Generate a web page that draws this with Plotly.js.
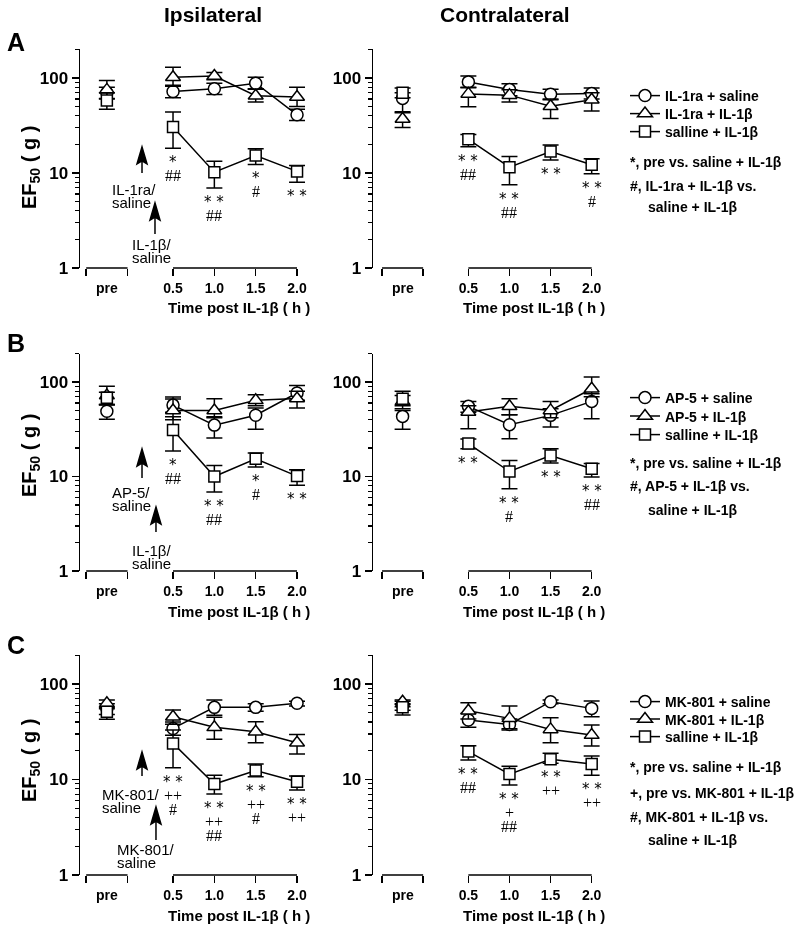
<!DOCTYPE html>
<html><head><meta charset="utf-8">
<script src="https://cdn.plot.ly/plotly-3.0.1.min.js"></script>
<style>html,body{margin:0;padding:0;background:#fff}
#chart svg.main-svg{will-change:transform}
</style>
</head><body><div id="chart" style="width:800px;height:931px"></div>
<script>
const FONT = 'Liberation Sans, Arial, Helvetica, sans-serif';
const SERIF = 'Liberation Serif, Times New Roman, serif';
const STARFONT = 'DejaVu Sans, sans-serif';
const W = 800, H = 931;
const px = x => x / W, py = y => 1 - y / H;

// ---------- data ----------
const PRE_X = -0.3;
const times = [0.5, 1.0, 1.5, 2.0];
const timeLabels = ['0.5', '1.0', '1.5', '2.0'];
const preLabel = 'pre';
const yTickVals = [1, 10, 100];
const yTickText = ['1', '10', '100'];
const yMinorVals = [2, 3, 4, 5, 6, 7, 8, 9, 20, 30, 40, 50, 60, 70, 80, 90, 200];
const Y_MAX = 200;

const namesA = ['IL-1ra + saline', 'IL-1ra + IL-1β', 'salline + IL-1β'];
const namesB = ['AP-5 + saline', 'AP-5 + IL-1β', 'salline + IL-1β'];
const namesC = ['MK-801 + saline', 'MK-801 + IL-1β', 'salline + IL-1β'];

// each array: [pre, 0.5 h, 1.0 h, 1.5 h, 2.0 h]; Hi / Lo = ends of the error bars
// A ipsilateral
const aIpsiCir = [70, 72, 77, 88, 41];
const aIpsiCirHi = [80, 84, 88, 102, 47];
const aIpsiCirLo = [61, 62, 67, 77, 35.6];
const aIpsiTri = [75, 102, 105, 65, 63];
const aIpsiTriHi = [94, 130, 114, 76, 80];
const aIpsiTriLo = [60, 82, 96, 56, 50];
const aIpsiSq = [58, 30.5, 10.2, 15.3, 10.4];
const aIpsiSqHi = [70, 43.9, 13.3, 18, 12];
const aIpsiSqLo = [47, 18.2, 6.95, 12.3, 8];
// A contralateral
const aConCir = [61, 91, 75.5, 67.4, 68.5];
const aConCirHi = [70, 105, 87, 76, 78.6];
const aConCirLo = [43, 79, 65, 59, 60];
const aConTri = [37, 68, 66, 50.5, 59];
const aConTriHi = [44, 80, 75, 60, 70];
const aConTriLo = [30.2, 49.7, 56, 37.5, 45];
const aConSq = [70, 22.6, 11.5, 16.8, 12.2];
const aConSqHi = [78.6, 25.5, 14.9, 19.7, 14.1];
const aConSqLo = [62, 18.9, 7.5, 13.7, 9.8];
// B ipsilateral
const bIpsiCir = [49, 57, 35, 44.5, 76.5];
const bIpsiCirHi = [57, 66, 42, 53, 92];
const bIpsiCirLo = [40.3, 48, 25.5, 31.6, 64];
const bIpsiTri = [72, 50, 50, 64, 67];
const bIpsiTriHi = [90, 69.4, 66.6, 73.4, 80];
const bIpsiTriLo = [58, 40, 43, 56, 53];
const bIpsiSq = [68, 31, 10, 15.4, 10.1];
const bIpsiSqHi = [78, 43, 13.1, 17.7, 11.8];
const bIpsiSqLo = [58, 18.6, 6.85, 12.6, 8.07];
// B contralateral
const bConCir = [43.3, 55.3, 35.4, 44.4, 62.4];
const bConCirHi = [50, 62.4, 45, 52, 75];
const bConCirLo = [31.6, 48, 25.1, 33.4, 40.9];
const bConTri = [62.4, 48.2, 55.3, 50.1, 85];
const bConTriHi = [72, 56, 66.6, 62.4, 113];
const bConTriLo = [52, 32.1, 45, 42, 70];
const bConSq = [66.6, 22.3, 11.3, 16.7, 12.1];
const bConSqHi = [79.7, 25, 14.8, 19.7, 13.7];
const bConSqLo = [56, 19.7, 7.4, 13.9, 9.9];
// C ipsilateral
const cIpsiCir = [55.6, 34.3, 57, 57, 62.8];
const cIpsiCirHi = [62, 40, 68, 62, 66];
const cIpsiCirLo = [48, 29, 47, 52, 59];
const cIpsiTri = [62.8, 45.5, 35.2, 31.7, 24.3];
const cIpsiTriHi = [68, 53.4, 45, 40.3, 29.7];
const cIpsiTriLo = [55, 38, 26.4, 24.3, 18.5];
const cIpsiSq = [51.3, 23.9, 8.97, 12.4, 9.5];
const cIpsiSqHi = [57, 33, 11.1, 14.5, 10.9];
const cIpsiSqLo = [42.7, 13.3, 7.05, 10.7, 7.77];
// C contralateral
const cConCir = [60, 42, 37.8, 65.3, 55.6];
const cConCirHi = [66, 49, 43, 68, 66.4];
const cConCirLo = [53, 35.2, 33, 62, 45.5];
const cConTri = [65.3, 52.6, 43.7, 33.5, 29.2];
const cConTriHi = [68, 63.8, 58.8, 44.4, 37.2];
const cConTriLo = [58, 43, 34, 24.3, 22.4];
const cConSq = [57, 19.6, 11.4, 16.3, 14.5];
const cConSqHi = [62, 22.6, 13.8, 18.8, 17.6];
const cConSqLo = [47.3, 16, 8.75, 14.8, 11.1];

// significance labels under the saline + IL-1β points (0.5, 1.0, 1.5, 2.0 h)
const sigAIpsi = [['*', '##'], ['**', '##'], ['*', '#'], ['**']];
const sigACon = [['**', '##'], ['**', '##'], ['**'], ['**', '#']];
const sigBIpsi = [['*', '##'], ['**', '##'], ['*', '#'], ['**']];
const sigBCon = [['**'], ['**', '#'], ['**'], ['**', '##']];
const sigCIpsi = [['**', '++', '#'], ['**', '++', '##'], ['**', '++', '#'], ['**', '++']];
const sigCCon = [['**', '##'], ['**', '+', '##'], ['**', '++'], ['**', '++']];

const colTitles = ['Ipsilateral', 'Contralateral'];
const rowLetters = ['A', 'B', 'C'];
const xTitle = 'Time post IL-1β ( h )';
const yTitle = 'EF<sub>50</sub> ( g )';
const arrowTexts = [
  [['IL-1ra/', 'saline'], ['IL-1β/', 'saline']],
  [['AP-5/', 'saline'], ['IL-1β/', 'saline']],
  [['MK-801/', 'saline'], ['MK-801/', 'saline']]
];
const notes = [
  ['*, pre vs. saline + IL-1β', '#, IL-1ra + IL-1β vs.', 'saline + IL-1β'],
  ['*, pre vs. saline + IL-1β', '#, AP-5 + IL-1β vs.', 'saline + IL-1β'],
  ['*, pre vs. saline + IL-1β', '+, pre vs. MK-801 + IL-1β', '#, MK-801 + IL-1β vs.', 'saline + IL-1β']
];

// ---------- layout geometry ----------
const LOGMAX = Math.log10(Y_MAX);
const rowDomains = [[0.71214, 0.94694], [0.38668, 0.62019], [0.06015, 0.29613]];
const colDomains = [[0.1, 0.38163], [0.46625, 0.74988]];
const colRanges = [[-0.625, 2.1], [-0.66, 2.1]];
const preSeg = [-0.55, -0.05];
// arrow decorations: x (data), tip (log units), length px, label left x, label center (log units)
const arrowGeo = [
  [{x: 0.125, tip: 1.274, len: 26, lx: -0.262, ly: 0.753}, {x: 0.282, tip: 0.684, len: 31, lx: -0.02, ly: 0.174}],
  [{x: 0.125, tip: 1.291, len: 29, lx: -0.262, ly: 0.767}, {x: 0.294, tip: 0.677, len: 25, lx: -0.02, ly: 0.153}],
  [{x: 0.125, tip: 1.288, len: 24, lx: -0.383, ly: 0.780}, {x: 0.294, tip: 0.712, len: 33, lx: -0.2016, ly: 0.194}]
];
const yTitleY = [168, 456, 761];
const letterY = [42, 343, 645];
const legendRowY = [[96, 114, 132], [398, 416.5, 435], [702, 719.5, 737]];
const noteY = [[162, 186, 207], [463, 486, 510], [767, 793, 817, 840]];

const panels = [
  {row: 0, col: 0, m: [aIpsiCir, aIpsiTri, aIpsiSq], hi: [aIpsiCirHi, aIpsiTriHi, aIpsiSqHi], lo: [aIpsiCirLo, aIpsiTriLo, aIpsiSqLo], sig: sigAIpsi, names: namesA},
  {row: 0, col: 1, m: [aConCir, aConTri, aConSq], hi: [aConCirHi, aConTriHi, aConSqHi], lo: [aConCirLo, aConTriLo, aConSqLo], sig: sigACon, names: namesA},
  {row: 1, col: 0, m: [bIpsiCir, bIpsiTri, bIpsiSq], hi: [bIpsiCirHi, bIpsiTriHi, bIpsiSqHi], lo: [bIpsiCirLo, bIpsiTriLo, bIpsiSqLo], sig: sigBIpsi, names: namesB},
  {row: 1, col: 1, m: [bConCir, bConTri, bConSq], hi: [bConCirHi, bConTriHi, bConSqHi], lo: [bConCirLo, bConTriLo, bConSqLo], sig: sigBCon, names: namesB},
  {row: 2, col: 0, m: [cIpsiCir, cIpsiTri, cIpsiSq], hi: [cIpsiCirHi, cIpsiTriHi, cIpsiSqHi], lo: [cIpsiCirLo, cIpsiTriLo, cIpsiSqLo], sig: sigCIpsi, names: namesC},
  {row: 2, col: 1, m: [cConCir, cConTri, cConSq], hi: [cConCirHi, cConTriHi, cConSqHi], lo: [cConCirLo, cConTriLo, cConSqLo], sig: sigCCon, names: namesC}
];
const symbols = ['circle', 'triangle-up', 'square'];
const sizes = [12, 13, 11];

const traces = [], annotations = [], shapes = [];
const layout = {
  width: W, height: H, autosize: false,
  margin: {l: 0, r: 0, t: 0, b: 0},
  paper_bgcolor: 'white', plot_bgcolor: 'rgba(0,0,0,0)',
  font: {family: FONT, color: 'black'},
  showlegend: true, annotations, shapes
};

const gap = a => [a[0], null].concat(a.slice(1));
const legendKey = idx => idx === 1 ? 'legend' : 'legend' + idx;

panels.forEach((p, i) => {
  const n = i + 1, sx = n === 1 ? '' : String(n);
  const xa = 'x' + sx, ya = 'y' + sx;
  layout['xaxis' + sx] = {
    domain: colDomains[p.col], range: colRanges[p.col], anchor: ya,
    showline: false, showgrid: false, zeroline: false, fixedrange: true,
    ticks: 'outside', ticklen: 7, tickwidth: 1.5, tickcolor: 'black',
    tickmode: 'array', tickvals: times, ticktext: timeLabels,
    tickfont: {family: FONT, size: 14, weight: 'bold', color: 'black'},
    minor: {tickmode: 'array', tickvals: preSeg, ticks: 'outside', ticklen: 7, tickwidth: 1.5, tickcolor: 'black', showgrid: false}
  };
  layout['yaxis' + sx] = {
    domain: rowDomains[p.row], type: 'log', range: [0, LOGMAX], anchor: xa,
    showline: true, linewidth: 1.5, linecolor: 'black',
    showgrid: false, zeroline: false, fixedrange: true,
    ticks: 'outside', ticklen: 7, tickwidth: 1.5, tickcolor: 'black',
    tickmode: 'array', tickvals: yTickVals, ticktext: yTickText,
    tickfont: {family: FONT, size: 17, weight: 'bold', color: 'black'},
    minor: {tickmode: 'array', tickvals: yMinorVals, ticks: 'outside', ticklen: 4, tickwidth: 1.2, tickcolor: 'black', showgrid: false}
  };
  // broken x axis lines
  [[preSeg[0], preSeg[1]], [times[0], times[times.length - 1]]].forEach(seg => {
    shapes.push({type: 'line', xref: xa, yref: ya + ' domain', x0: seg[0], x1: seg[1], y0: 0, y1: 0,
      line: {color: 'black', width: 1.5}});
  });
  annotations.push({xref: xa, yref: ya + ' domain', x: PRE_X, y: 0, yshift: -20, xanchor: 'center', yanchor: 'middle',
    text: preLabel, showarrow: false, font: {family: FONT, size: 14, weight: 'bold', color: 'black'}});
  annotations.push({xref: xa, yref: ya + ' domain', x: 1.3, y: 0, yshift: -40, xanchor: 'center', yanchor: 'middle',
    text: xTitle, showarrow: false, font: {family: FONT, size: 15, weight: 'bold', color: 'black'}});

  p.m.forEach((vals, k) => {
    const hi = p.hi[k], lo = p.lo[k];
    traces.push({
      type: 'scatter', mode: 'lines+markers', name: p.names[k],
      x: [PRE_X, null].concat(times), y: gap(vals),
      xaxis: xa, yaxis: ya,
      legend: legendKey(p.row * 3 + k + 1), showlegend: p.col === 0,
      line: {color: 'black', width: 1.5},
      marker: {symbol: symbols[k], size: sizes[k], color: 'white', line: {color: 'black', width: 1.5}},
      error_y: {type: 'data', symmetric: false, visible: true,
        array: gap(vals.map((v, j) => hi[j] - v)), arrayminus: gap(vals.map((v, j) => v - lo[j])),
        color: 'black', thickness: 1.5, width: 8},
      cliponaxis: false, hoverinfo: 'skip'
    });
  });
  // significance marks under saline + IL-1β
  const sqLo = p.lo[2];
  p.sig.forEach((lines, t) => {
    lines.forEach((txt, j) => {
      const star = txt.indexOf('*') >= 0;
      annotations.push({xref: xa, yref: ya, x: times[t], y: Math.log10(sqLo[t + 1]),
        xanchor: 'center', yanchor: 'top',
        yshift: (star ? -3 : -3) - j * 14, text: star ? txt.split('').join(' ') : txt, showarrow: false,
        font: star ? {family: STARFONT, size: 15, color: 'black'} : {family: SERIF, size: 16, color: 'black'}});
    });
  });
  // arrows (ipsilateral column)
  if (p.col === 0) {
    arrowGeo[p.row].forEach((g, a) => {
      shapes.push({type: 'path', xref: xa, yref: ya + ' domain', xsizemode: 'pixel', ysizemode: 'pixel',
        xanchor: g.x, yanchor: g.tip / LOGMAX,
        path: `M0,0 L5,-17 L0,-14 L-5,-17 Z M0,-14 L0,-${g.len}`,
        fillcolor: 'black', line: {color: 'black', width: 1.5}});
      arrowTexts[p.row][a].forEach((txt, j) => {
        annotations.push({xref: xa, yref: ya, x: g.lx, y: g.ly, xanchor: 'left', yanchor: 'middle',
          yshift: 6.5 - j * 13, text: txt, showarrow: false,
          font: {family: FONT, size: 15, color: 'black'}});
      });
    });
  }
});

// column titles, row letters, y titles, legend notes, legends
colTitles.forEach((t, c) => annotations.push({xref: 'paper', yref: 'paper', x: px(c ? 505 : 213), y: py(15),
  xanchor: 'center', yanchor: 'middle',
  text: t, showarrow: false, font: {family: FONT, size: 21, weight: 'bold', color: 'black'}}));
rowLetters.forEach((t, r) => {
  annotations.push({xref: 'paper', yref: 'paper', x: px(16), y: py(letterY[r]), xanchor: 'center', yanchor: 'middle',
    text: t, showarrow: false, font: {family: FONT, size: 25, weight: 'bold', color: 'black'}});
  annotations.push({xref: 'paper', yref: 'paper', x: px(30), y: py(yTitleY[r]), xanchor: 'center', yanchor: 'middle',
    text: yTitle, textangle: -90,
    showarrow: false, font: {family: FONT, size: 20, weight: 'bold', color: 'black'}});
  notes[r].forEach((t2, j) => {
    const indent = j === notes[r].length - 1 ? 646 : 628;
    annotations.push({xref: 'paper', yref: 'paper', x: px(indent), y: py(noteY[r][j]), xanchor: 'left', yanchor: 'middle',
      text: t2, showarrow: false, font: {family: FONT, size: 14, weight: 'bold', color: 'black'}});
  });
  legendRowY[r].forEach((yy, k) => {
    layout[legendKey(r * 3 + k + 1)] = {
      x: px(625), xanchor: 'left', y: py(yy), yanchor: 'middle',
      font: {family: FONT, size: 14, weight: 'bold', color: 'black'},
      bgcolor: 'rgba(0,0,0,0)', borderwidth: 0, tracegroupgap: 0, itemwidth: 30
    };
  });
});

Plotly.newPlot('chart', traces, layout, {staticPlot: true, displayModeBar: false});
</script></body></html>
